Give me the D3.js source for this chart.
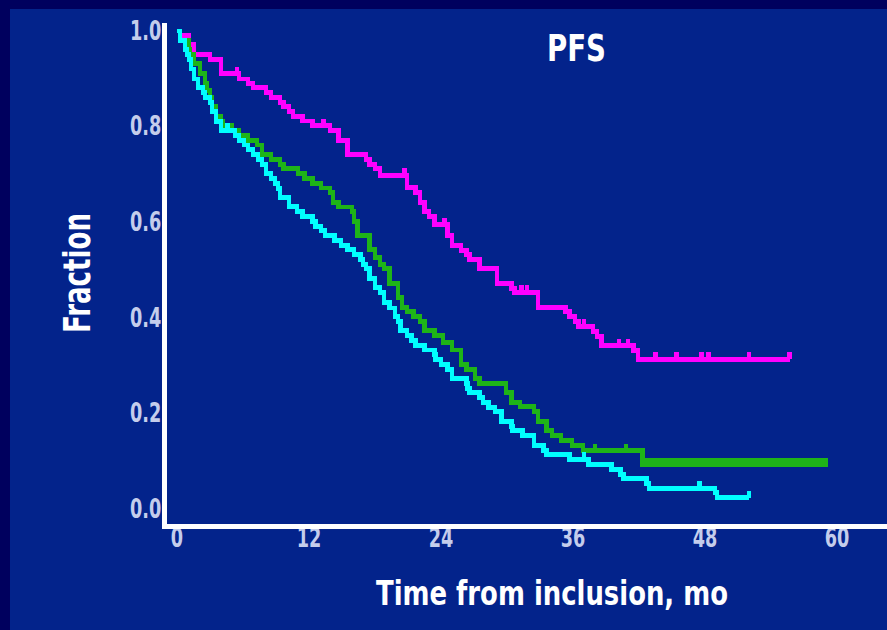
<!DOCTYPE html>
<html>
<head>
<meta charset="utf-8">
<script src="https://cdn.jsdelivr.net/npm/d3@7"></script>
<style>
  body { margin: 0; background: #00005e; }
  svg { display: block; }
</style>
</head>
<body>
<div id="chart"></div>
<script>
// axis ticks
var months = [0, 12, 24, 36, 48, 60];
var fracTicks = [0, 0.2, 0.4, 0.6, 0.8, 1.0];

// magenta curve: [months, fraction] step points
var magSteps = [[0,1.0],[0.27,0.991],[1.09,0.972],[1.55,0.951],[3.0,0.940],[4.0,0.911],[5.64,0.900],
  [6.45,0.890],[6.9,0.882],[8.1,0.871],[8.55,0.861],[9.36,0.850],[9.7,0.842],[10.2,0.832],[10.55,0.821],
  [11.4,0.812],[12.3,0.802],[13.9,0.792],[14.7,0.771],[15.5,0.742],[17.2,0.731],[17.5,0.721],[18.0,0.712],
  [18.45,0.698],[20.9,0.673],[21.7,0.662],[22.1,0.641],[22.5,0.622],[22.9,0.612],[23.4,0.595],[24.6,0.572],
  [25.0,0.551],[25.8,0.541],[26.3,0.532],[26.6,0.522],[27.5,0.503],[29.1,0.472],[30.4,0.461],[30.7,0.453],
  [32.8,0.422],[35.3,0.413],[35.7,0.403],[36.2,0.392],[36.5,0.382],[37.8,0.371],[38.2,0.361],[38.6,0.342],
  [41.5,0.332],[41.9,0.313],[55.7,0.313]];
var magCensor = [5.45, 13.3, 20.7, 24.3, 31.3, 31.8, 37.0, 40.2, 41.0, 43.5, 45.4, 47.7, 48.3, 52.0, 55.7];

// green curve
var grnSteps = [[0,1.0],[0.27,0.980],[1.09,0.961],[1.2,0.951],[1.55,0.932],[2.1,0.911],[2.55,0.890],
  [2.73,0.876],[3.0,0.861],[3.18,0.842],[3.55,0.821],[4.0,0.811],[4.2,0.800],[4.36,0.792],[5.64,0.781],
  [6.45,0.771],[7.27,0.762],[7.73,0.742],[8.55,0.731],[9.36,0.721],[9.7,0.712],[11.0,0.702],[11.6,0.691],
  [12.3,0.681],[13.1,0.672],[13.9,0.662],[14.2,0.641],[14.7,0.632],[15.9,0.622],[16.1,0.601],[16.4,0.572],
  [17.5,0.543],[18.0,0.526],[18.45,0.511],[18.8,0.503],[19.3,0.472],[20.1,0.442],[20.45,0.422],[20.9,0.413],
  [21.5,0.403],[22.1,0.392],[22.5,0.373],[23.4,0.363],[24.2,0.348],[25.0,0.333],[25.8,0.302],[26.3,0.292],
  [27.1,0.273],[27.5,0.263],[29.9,0.244],[30.4,0.223],[31.2,0.214],[32.45,0.204],[32.8,0.183],[33.6,0.164],
  [34.1,0.154],[34.9,0.143],[35.9,0.133],[36.9,0.122],[42.3,0.093],[59.2,0.093]];
var grnCensor = [5.0, 38.0, 40.8,
  42.4, 42.8, 43.2, 43.6, 44.0, 44.4, 44.8, 45.2, 45.6, 46.0, 46.4, 46.8, 47.2, 47.6, 48.0,
  48.4, 48.8, 49.2, 49.6, 50.0, 50.4, 50.8, 51.2, 51.6, 52.0, 52.4, 52.8, 53.2, 53.6, 54.0,
  54.4, 54.8, 55.2, 55.6, 56.0, 56.4, 56.8, 57.2, 57.6, 58.0, 58.4, 58.8, 59.0];

// cyan curve
var cyaSteps = [[0,1.0],[0.27,0.98],[0.73,0.961],[0.9,0.951],[1.09,0.940],[1.27,0.921],[1.55,0.900],
  [1.9,0.882],[2.36,0.871],[2.55,0.861],[3.0,0.850],[3.18,0.832],[3.55,0.811],[4.0,0.792],[5.27,0.781],
  [5.64,0.771],[6.1,0.761],[6.45,0.752],[6.9,0.742],[7.36,0.731],[7.73,0.721],[8.1,0.702],[8.55,0.691],
  [8.9,0.681],[9.2,0.671],[9.36,0.652],[10.2,0.633],[10.9,0.622],[11.4,0.612],[12.3,0.601],[12.6,0.591],
  [13.1,0.583],[13.45,0.572],[14.3,0.562],[14.9,0.551],[15.5,0.543],[16.1,0.532],[16.7,0.522],[16.9,0.511],
  [17.2,0.503],[17.5,0.482],[18.0,0.463],[18.45,0.453],[18.8,0.432],[19.3,0.421],[19.8,0.403],[20.1,0.392],
  [20.3,0.373],[20.9,0.363],[21.3,0.352],[21.7,0.342],[22.5,0.333],[23.4,0.323],[23.5,0.313],[24.0,0.302],
  [24.6,0.292],[25.0,0.273],[26.3,0.263],[26.4,0.252],[26.6,0.244],[27.5,0.233],[27.8,0.223],[28.3,0.212],
  [28.9,0.204],[29.5,0.183],[30.4,0.173],[30.5,0.164],[31.4,0.154],[32.45,0.133],[33.3,0.122],[33.6,0.114],
  [35.7,0.104],[37.4,0.093],[39.5,0.083],[40.3,0.072],[40.6,0.064],[42.7,0.053],[42.9,0.043],[48.9,0.035],
  [49.1,0.024],[52.0,0.024]];
var cyaCensor = [4.6, 37.0, 47.5, 52.0];

var width = 887
var height = 630

var svg = d3.select("#chart")
  .append("svg")
    .attr("width", width)
    .attr("height", height)

svg.append("rect")
  .attr("width", width).attr("height", height)
  .attr("fill", "#00005e")
svg.append("rect")
  .attr("x", 10).attr("y", 9)
  .attr("width", width - 10).attr("height", height - 9)
  .attr("fill", "#03238b")

var x = d3.scaleLinear().domain([0, 60]).range([177, 837])
var y = d3.scaleLinear().domain([0, 1]).range([509, 31])

var font = "'DejaVu Sans', sans-serif"

// tick labels
var yAxis = svg.append("g")
  .attr("transform", "translate(162,0)")
  .call(d3.axisLeft(y).tickValues(fracTicks).tickFormat(d3.format(".1f")).tickSize(0).tickPadding(1))
yAxis.select(".domain").remove()
yAxis.selectAll("text")
  .attr("fill", "#c4cdec")
  .style("font", "bold 26px " + font)
  .attr("transform", "scale(0.68,1)")

var xAxis = svg.append("g")
  .attr("transform", "translate(0,529)")
  .call(d3.axisBottom(x).tickValues(months).tickSize(0).tickPadding(0))
xAxis.select(".domain").remove()
xAxis.selectAll("text")
  .attr("fill", "#c4cdec")
  .style("font", "bold 26px " + font)
  .attr("transform", "scale(0.68,1)")
xAxis.selectAll(".tick")
  .attr("transform", function(d){ return "translate(" + x(d) + ",0)" })

// axis lines
svg.append("line")
  .attr("x1", 164.5).attr("x2", 164.5).attr("y1", 23).attr("y2", 529)
  .attr("stroke", "white").attr("stroke-width", 5)
svg.append("line")
  .attr("x1", 162).attr("x2", width).attr("y1", 526.5).attr("y2", 526.5)
  .attr("stroke", "white").attr("stroke-width", 5)

// curves
var line = d3.line()
  .x(function(d){ return x(d[0]) })
  .y(function(d){ return y(d[1]) })
  .curve(d3.curveStepAfter)

var bis = d3.bisector(function(d){ return d[0] }).right

function drawCurve(steps, censor, color) {
  svg.append("path")
    .attr("d", line(steps))
    .attr("fill", "none")
    .attr("stroke", color)
    .attr("stroke-width", 4.5)
    .attr("shape-rendering", "crispEdges")
  svg.selectAll(null)
    .data(censor)
    .enter()
    .append("line")
      .attr("x1", function(t){ return x(t) })
      .attr("x2", function(t){ return x(t) })
      .attr("y1", function(t){ return y(steps[Math.max(0, bis(steps, t) - 1)][1]) })
      .attr("y2", function(t){ return y(steps[Math.max(0, bis(steps, t) - 1)][1]) - 7 })
      .attr("stroke", color)
      .attr("stroke-width", 4.5)
      .attr("shape-rendering", "crispEdges")
}

drawCurve(magSteps, magCensor, "#ff00ff")
drawCurve(grnSteps, grnCensor, "#1eb418")
drawCurve(cyaSteps, cyaCensor, "#00ffff")

// titles
svg.append("text")
  .attr("x", 547).attr("y", 61)
  .attr("textLength", 59).attr("lengthAdjust", "spacingAndGlyphs")
  .attr("fill", "white")
  .style("font", "bold 38px " + font)
  .text("PFS")

svg.append("text")
  .attr("transform", "translate(90,333) rotate(-90)")
  .attr("textLength", 120).attr("lengthAdjust", "spacingAndGlyphs")
  .attr("fill", "white")
  .style("font", "bold 38px " + font)
  .text("Fraction")

svg.append("text")
  .attr("x", 376).attr("y", 605)
  .attr("textLength", 352).attr("lengthAdjust", "spacingAndGlyphs")
  .attr("fill", "white")
  .style("font", "bold 33px " + font)
  .text("Time from inclusion, mo")
</script>
</body>
</html>
